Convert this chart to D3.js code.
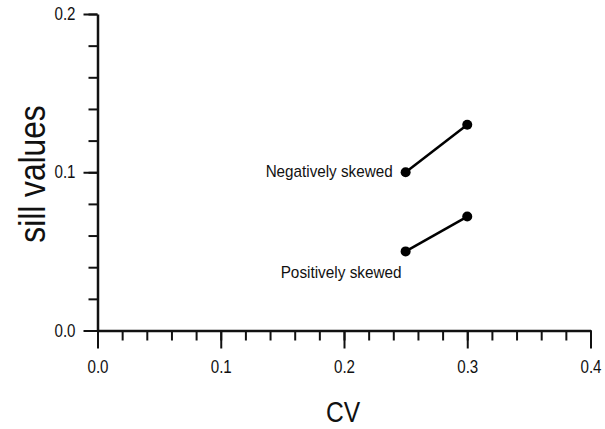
<!DOCTYPE html>
<html>
<head>
<meta charset="utf-8">
<script src="https://cdn.jsdelivr.net/npm/d3@7"></script>
<style>
  html, body { margin: 0; padding: 0; background: #fff; }
  svg { display: block; }
  text { font-family: "Liberation Sans", Arial, sans-serif; fill: #111; }
</style>
</head>
<body>
<svg id="chart" width="605" height="429"></svg>
<script>
// ---- data ----
const seriesNames = ["Negatively skewed", "Positively skewed"];
const cvValues = [0.25, 0.30];
const negSill = [0.10, 0.13];
const posSill = [0.05, 0.072];
const xMajorTicks = [0.0, 0.1, 0.2, 0.3, 0.4];
const yMajorTicks = [0.0, 0.1, 0.2];
const xTickLabels = ["0.0", "0.1", "0.2", "0.3", "0.4"];
const yTickLabels = ["0.0", "0.1", "0.2"];
const xTitle = "CV";
const yTitle = "sill values";

const svg = d3.select("#chart");
const x = d3.scaleLinear().domain([0, 0.4]).range([97.5, 590.5]);
const y = d3.scaleLinear().domain([0, 0.2]).range([330.5, 14]);

const xMinor = d3.range(0, 0.4001, 0.02);
const yMinor = d3.range(0, 0.2001, 0.02);

// condense helper
function condense(sel, factor) {
  sel.each(function () {
    const w = this.getComputedTextLength();
    d3.select(this).attr("textLength", w * factor).attr("lengthAdjust", "spacingAndGlyphs");
  });
}

// minor ticks
svg.append("g")
  .attr("transform", `translate(0,${y(0)})`)
  .call(d3.axisBottom(x).tickValues(xMinor).tickSize(10).tickFormat(""))
  .call(g => g.select(".domain").remove())
  .call(g => g.selectAll("line").attr("stroke", "#111").attr("stroke-width", 2));
svg.append("g")
  .attr("transform", `translate(${x(0)},0)`)
  .call(d3.axisLeft(y).tickValues(yMinor).tickSize(9).tickFormat(""))
  .call(g => g.select(".domain").remove())
  .call(g => g.selectAll("line").attr("stroke", "#111").attr("stroke-width", 2));

// major x axis
const gx = svg.append("g")
  .attr("transform", `translate(0,${y(0)})`)
  .call(d3.axisBottom(x).tickValues(xMajorTicks).tickSize(18).tickSizeOuter(0)
    .tickPadding(6).tickFormat((d, i) => xTickLabels[i]));
gx.select(".domain").attr("stroke", "#111").attr("stroke-width", 2.5);
gx.selectAll("line").attr("stroke", "#111").attr("stroke-width", 2);
gx.selectAll("text").attr("font-size", 18).attr("fill", "#111")
  .attr("y", 42).attr("dy", 0).call(condense, 0.84);

// major y axis
const gy = svg.append("g")
  .attr("transform", `translate(${x(0)},0)`)
  .call(d3.axisLeft(y).tickValues(yMajorTicks).tickSize(14).tickSizeOuter(0)
    .tickFormat((d, i) => yTickLabels[i]));
gy.select(".domain").attr("stroke", "#111").attr("stroke-width", 2.5);
gy.selectAll("line").attr("stroke", "#111").attr("stroke-width", 2);
gy.selectAll("text").attr("font-size", 18).attr("fill", "#111")
  .attr("x", -22).attr("dy", 5.5).call(condense, 0.84);

// axis titles
svg.append("text").attr("x", 343).attr("y", 422)
  .attr("text-anchor", "middle").attr("font-size", 30).text(xTitle)
  .call(condense, 0.82);
svg.append("text").attr("transform", "translate(45,174) rotate(-90)")
  .attr("text-anchor", "middle").attr("font-size", 36).text(yTitle)
  .call(condense, 0.88);

// series
const series = [negSill, posSill];
const lineGen = d3.line().x(d => x(d[0])).y(d => y(d[1]));
series.forEach(vals => {
  const pts = cvValues.map((c, i) => [c, vals[i]]);
  svg.append("path").attr("d", lineGen(pts))
    .attr("fill", "none").attr("stroke", "#000").attr("stroke-width", 2.5);
  svg.selectAll(null).data(pts).enter().append("circle")
    .attr("cx", d => x(d[0])).attr("cy", d => y(d[1])).attr("r", 5).attr("fill", "#000");
});

// annotations
const negLabel = svg.append("text")
  .attr("x", x(cvValues[0]) - 13).attr("y", y(negSill[0]) + 5)
  .attr("text-anchor", "end").attr("font-size", 17).text(seriesNames[0]);
negLabel.attr("textLength", 127).attr("lengthAdjust", "spacingAndGlyphs");
const posLabel = svg.append("text")
  .attr("x", x(cvValues[0]) - 4).attr("y", y(posSill[0]) + 27)
  .attr("text-anchor", "end").attr("font-size", 17).text(seriesNames[1]);
posLabel.attr("textLength", 121).attr("lengthAdjust", "spacingAndGlyphs");
</script>
</body>
</html>
